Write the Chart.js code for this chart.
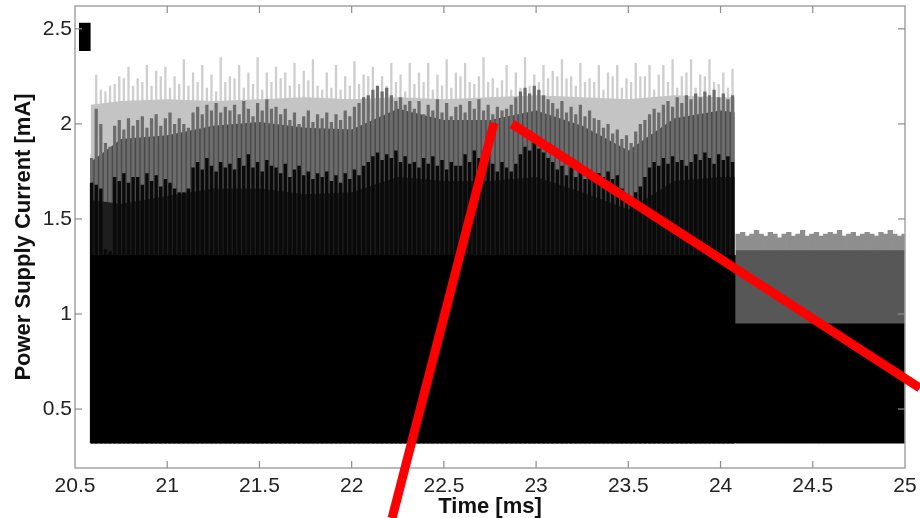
<!DOCTYPE html>
<html><head><meta charset="utf-8">
<script src="https://cdn.jsdelivr.net/npm/chart.js@4.4.1/dist/chart.umd.min.js"></script>
<style>html,body{margin:0;padding:0;background:#fff;}</style>
</head><body><canvas id="c" width="920" height="518"></canvas>
<script>
// ---- data ----
const xTicks = [20.5, 21, 21.5, 22, 22.5, 23, 23.5, 24, 24.5, 25];
const xTickLabels = ['20.5', '21', '21.5', '22', '22.5', '23', '23.5', '24', '24.5', '25'];
const yTicks = [0.5, 1, 1.5, 2, 2.5];
const yTickLabels = ['0.5', '1', '1.5', '2', '2.5'];

const spikeTimes = [
20.590,20.615,20.640,20.665,20.690,20.715,20.740,20.765,20.790,20.815,
20.840,20.865,20.890,20.915,20.940,20.965,20.990,21.015,21.040,21.065,
21.090,21.115,21.140,21.165,21.190,21.215,21.240,21.265,21.290,21.315,
21.340,21.365,21.390,21.415,21.440,21.465,21.490,21.515,21.540,21.565,
21.590,21.615,21.640,21.665,21.690,21.715,21.740,21.765,21.790,21.815,
21.840,21.865,21.890,21.915,21.940,21.965,21.990,22.015,22.040,22.065,
22.090,22.115,22.140,22.165,22.190,22.215,22.240,22.265,22.290,22.315,
22.340,22.365,22.390,22.415,22.440,22.465,22.490,22.515,22.540,22.565,
22.590,22.615,22.640,22.665,22.690,22.715,22.740,22.765,22.790,22.815,
22.840,22.865,22.890,22.915,22.940,22.965,22.990,23.015,23.040,23.065,
23.090,23.115,23.140,23.165,23.190,23.215,23.240,23.265,23.290,23.315,
23.340,23.365,23.390,23.415,23.440,23.465,23.490,23.515,23.540,23.565,
23.590,23.615,23.640,23.665,23.690,23.715,23.740,23.765,23.790,23.815,
23.840,23.865,23.890,23.915,23.940,23.965,23.990,24.015,24.040,24.065];

const lightTop = [
1.84,2.26,2.18,2.17,2.20,2.21,2.25,2.24,2.30,2.20,
2.24,2.22,2.31,2.20,2.28,2.25,2.30,2.19,2.25,2.21,
2.34,2.20,2.27,2.22,2.31,2.19,2.26,2.17,2.35,2.22,
2.25,2.24,2.31,2.19,2.27,2.21,2.35,2.18,2.27,2.22,
2.30,2.24,2.27,2.20,2.32,2.21,2.28,2.23,2.34,2.20,
2.18,2.27,2.19,2.31,2.18,2.25,2.20,2.33,2.21,2.26,
2.25,2.30,2.18,2.25,2.20,2.32,2.22,2.26,2.17,2.32,
2.21,2.27,2.22,2.32,2.18,2.26,2.20,2.34,2.19,2.27,
2.25,2.32,2.22,2.21,2.25,2.35,2.22,2.24,2.19,2.23,
2.31,2.18,2.27,2.19,2.35,2.20,2.26,2.22,2.31,2.24,
2.28,2.25,2.34,2.24,2.25,2.20,2.32,2.22,2.24,2.22,
2.31,2.18,2.27,2.25,2.31,2.19,2.24,2.22,2.32,2.25,
2.25,2.31,2.18,2.26,2.31,2.22,2.34,2.19,2.25,2.27,
2.34,2.19,2.26,2.25,2.34,2.22,2.21,2.27,2.19,2.29];

const midTop = [
1.82,2.08,2.00,1.90,1.88,1.99,2.02,1.97,2.03,1.99,
2.02,2.04,1.98,2.03,2.05,1.99,2.03,2.06,2.00,2.03,
2.00,1.98,2.06,2.09,2.05,2.10,2.07,2.11,2.06,2.09,
2.07,2.10,2.05,2.12,2.08,2.04,2.11,2.07,2.13,2.08,
2.09,2.05,2.08,2.02,2.06,2.00,2.04,2.07,2.01,2.05,
2.03,2.06,2.01,2.05,2.02,2.07,2.04,2.09,2.11,2.14,
2.15,2.18,2.20,2.17,2.19,2.15,2.12,2.14,2.10,2.12,
2.08,2.12,2.05,2.10,2.07,2.13,2.06,2.11,2.04,2.09,
2.10,2.06,2.12,2.08,2.13,2.07,2.10,2.05,2.09,2.07,
2.08,2.10,2.14,2.17,2.19,2.16,2.20,2.18,2.15,2.13,
2.11,2.08,2.12,2.06,2.09,2.05,2.10,2.04,2.07,2.03,
2.02,1.98,2.00,1.95,1.97,1.92,1.94,1.90,1.96,2.00,
2.02,2.05,2.08,2.06,2.10,2.12,2.09,2.14,2.11,2.15,
2.13,2.16,2.14,2.17,2.15,2.18,2.14,2.16,2.13,2.15];

const blackTop = [
1.69,1.68,1.66,1.34,1.33,1.72,1.70,1.74,1.69,1.72,
1.72,1.68,1.74,1.70,1.73,1.67,1.71,1.69,1.66,1.64,
1.64,1.66,1.77,1.80,1.76,1.82,1.78,1.75,1.80,1.77,
1.79,1.76,1.82,1.78,1.84,1.77,1.80,1.75,1.81,1.78,
1.77,1.74,1.79,1.72,1.76,1.78,1.73,1.75,1.71,1.74,
1.72,1.75,1.70,1.73,1.69,1.74,1.71,1.76,1.73,1.78,
1.80,1.83,1.85,1.81,1.84,1.82,1.86,1.80,1.83,1.79,
1.80,1.77,1.82,1.79,1.83,1.78,1.81,1.76,1.80,1.78,
1.78,1.84,1.80,1.86,1.82,1.77,1.83,1.79,1.75,1.80,
1.77,1.75,1.79,1.84,1.88,1.86,1.90,1.87,1.85,1.82,
1.80,1.76,1.78,1.73,1.77,1.72,1.75,1.71,1.74,1.72,
1.74,1.72,1.75,1.71,1.73,1.66,1.63,1.61,1.64,1.67,
1.72,1.77,1.80,1.78,1.82,1.79,1.83,1.80,1.81,1.78,
1.80,1.84,1.81,1.85,1.82,1.79,1.84,1.81,1.83,1.80];

const bandTimes = [20.585,20.75,21.0,21.25,21.5,21.75,22.0,22.25,22.5,22.75,23.0,23.25,23.5,23.75,24.0,24.077];
const bandTop   = [2.10,2.12,2.13,2.12,2.13,2.14,2.13,2.14,2.13,2.14,2.15,2.14,2.13,2.15,2.14,2.14];
const darkTop   = [1.80,1.92,1.94,1.99,2.01,1.98,1.97,2.08,2.02,2.02,2.07,1.99,1.86,2.03,2.07,2.06];
const blackEnv  = [1.60,1.58,1.62,1.66,1.66,1.63,1.64,1.72,1.70,1.70,1.72,1.64,1.55,1.70,1.72,1.72];

const baseBottom = 0.32;
const baseTimes = [20.585, 24.082, 24.082, 25.0];
const baseTop   = [1.31, 1.31, 0.95, 0.95];

const postTimes = [
24.095,24.120,24.145,24.170,24.195,24.220,24.245,24.270,24.295,24.320,
24.345,24.370,24.395,24.420,24.445,24.470,24.495,24.520,24.545,24.570,
24.595,24.620,24.645,24.670,24.695,24.720,24.745,24.770,24.795,24.820,
24.845,24.870,24.895,24.920,24.945,24.970,24.995];
const postTop = [
1.42,1.43,1.41,1.42,1.44,1.42,1.41,1.43,1.42,1.40,
1.42,1.43,1.41,1.42,1.44,1.41,1.42,1.43,1.41,1.42,
1.43,1.42,1.44,1.41,1.42,1.43,1.41,1.42,1.43,1.42,
1.41,1.43,1.42,1.44,1.42,1.41,1.42];
const postMidTimes = [24.082, 25.0];
const postMidTop = [1.335, 1.335];

const markerTime = [20.553];
const markerLow = [2.385];
const markerHigh = [2.53];

// red zoom lines (data coordinates: time, current)
const zoomLineA_x = [22.219, 22.772];
const zoomLineA_y = [-0.074, 2.005];
const zoomLineB_x = [22.869, 25.081];
const zoomLineB_y = [2.0, 0.611];

// ---- build datasets ----
const FONT = "'Liberation Sans', Arial, Helvetica, sans-serif";
const bars = (xs, tops, color, bp, order) => ({
  type: 'bar', order, backgroundColor: color, barPercentage: bp, categoryPercentage: 1,
  grouped: false, borderWidth: 0,
  data: xs.map((t, i) => ({x: t, y: [baseBottom, tops[i]]}))
});
const area = (xs, tops, color, order) => ({
  type: 'line', order, backgroundColor: color, borderColor: 'rgba(0,0,0,0)', borderWidth: 0,
  pointRadius: 0, tension: 0, fill: {value: baseBottom},
  data: xs.map((t, i) => ({x: t, y: tops[i]}))
});

const datasets = [
  {type: 'bar', order: 0, backgroundColor: '#000', barThickness: 11, grouped: false, borderWidth: 0,
   data: markerTime.map((t, i) => ({x: t, y: [markerLow[i], markerHigh[i]]}))},
  area(baseTimes, baseTop, '#000000', 1),
  bars(spikeTimes, blackTop, '#0a0a0a', 0.75, 2),
  area(bandTimes, blackEnv, '#1e1e1e', 3),
  area(postMidTimes, postMidTop, '#575757', 4),
  bars(spikeTimes, midTop, '#6c6c6c', 0.7, 5),
  area(bandTimes, darkTop, '#4a4a4a', 6),
  bars(postTimes, postTop, '#8e8e8e', 1.0, 7),
  area(bandTimes, bandTop, '#c4c4c4', 8),
  bars(spikeTimes, lightTop, '#cecece', 0.5, 9)
];

const boxPlugin = {
  id: 'box',
  afterDatasetsDraw(chart) {
    const {ctx, chartArea: {left, right, top, bottom}, scales: {x, y}} = chart;
    ctx.save();
    ctx.strokeStyle = '#a4a4a4'; ctx.lineWidth = 1.5;
    ctx.strokeRect(left, top, right - left, bottom - top);
    ctx.strokeStyle = '#8c8c8c'; ctx.lineWidth = 1.2;
    const TL = 7;
    const seg = (a, b, c, d) => { ctx.beginPath(); ctx.moveTo(a, b); ctx.lineTo(c, d); ctx.stroke(); };
    xTicks.forEach(v => {
      const px = x.getPixelForValue(v);
      if (px <= left + 1 || px >= right - 1) return;
      seg(px, bottom, px, bottom - TL); seg(px, top, px, top + TL);
    });
    yTicks.forEach(v => {
      const py = y.getPixelForValue(v);
      seg(left, py, left + TL, py); seg(right, py, right - TL, py);
    });
    ctx.restore();
  }
};
const zoomLines = {
  id: 'zoomLines',
  afterDraw(chart) {
    const {ctx, scales: {x, y}} = chart;
    ctx.save();
    ctx.strokeStyle = '#ff0000'; ctx.lineWidth = 9; ctx.lineCap = 'butt';
    [[zoomLineA_x, zoomLineA_y], [zoomLineB_x, zoomLineB_y]].forEach(([xs, ys]) => {
      ctx.beginPath();
      ctx.moveTo(x.getPixelForValue(xs[0]), y.getPixelForValue(ys[0]));
      ctx.lineTo(x.getPixelForValue(xs[1]), y.getPixelForValue(ys[1]));
      ctx.stroke();
    });
    ctx.restore();
  }
};

new Chart(document.getElementById('c'), {
  type: 'bar',
  data: {datasets},
  options: {
    responsive: false, animation: false, devicePixelRatio: 1,
    layout: {padding: {top: 6, right: 15, left: 0, bottom: 0}},
    plugins: {legend: {display: false}, tooltip: {enabled: false}},
    scales: {
      x: {
        type: 'linear', min: 20.5, max: 25, offset: false,
        grid: {display: false, drawTicks: false}, border: {display: false},
        afterBuildTicks: s => { s.ticks = xTicks.map(v => ({value: v})); },
        afterFit: s => { s.height = 50; s.paddingLeft = 0; s.paddingRight = 0; },
        ticks: {autoSkip: false, maxRotation: 0, padding: 6, color: '#222',
                font: {family: FONT, size: 21}, callback: (v, i) => xTickLabels[i]},
        title: {display: true, text: 'Time [ms]', color: '#111',
                font: {family: FONT, size: 22, weight: 'bold', lineHeight: 1}, padding: 0}
      },
      y: {
        type: 'linear', min: 0.19, max: 2.62,
        grid: {display: false, drawTicks: false}, border: {display: false},
        afterBuildTicks: s => { s.ticks = yTicks.map(v => ({value: v})); },
        afterFit: s => { s.width = 75; s.paddingTop = 0; s.paddingBottom = 0; },
        ticks: {autoSkip: false, padding: 3, color: '#222',
                font: {family: FONT, size: 21}, callback: (v, i) => yTickLabels[i]},
        title: {display: true, text: 'Power Supply Current [mA]', color: '#111',
                font: {family: FONT, size: 22, weight: 'bold', lineHeight: 1.2}, padding: {top: 11, bottom: 0}}
      }
    }
  },
  plugins: [boxPlugin, zoomLines]
});
</script></body></html>
